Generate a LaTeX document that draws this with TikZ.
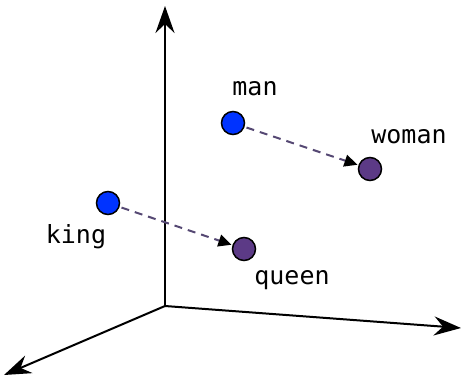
\documentclass[tikz,border=0pt]{standalone}
\usepackage{fontspec}
\setmonofont{DejaVu Sans Mono}
\usetikzlibrary{arrows.meta}
\definecolor{vblue}{RGB}{0,51,255}
\definecolor{vpurple}{RGB}{92,58,134}
\definecolor{dashc}{RGB}{85,72,115}
\tikzset{
  axis/.style={line width=2pt, -{Stealth[length=27pt,width=19pt,inset=9pt]}},
  word/.style={circle, draw=black, line width=1.5pt, minimum size=23pt, inner sep=0pt},
  lbl/.style={font=\fontsize{25}{27}\selectfont\ttfamily, inner sep=0pt},
  rel/.style={dashc, line width=2pt, dash pattern=on 8pt off 6pt, -{Triangle[length=13pt,width=12pt,color=black]}, shorten >=1pt, shorten <=2pt}
}
\begin{document}
\begin{tikzpicture}[x=1pt,y=-1pt]
\useasboundingbox (0,0) rectangle (462,380);
\coordinate (o) at (165,306);
\coordinate (ty) at (165,6);
\coordinate (tx) at (461,328);
\coordinate (tz) at (4,375);
\draw[axis] (o) -- (ty);
\draw[axis] (o) -- (tx);
\draw[axis] (o) -- (tz);
\node[word, fill=vblue] (man) at (233,123) {};
\node[word, fill=vpurple] (woman) at (370,169) {};
\node[word, fill=vblue] (king) at (108,203) {};
\node[word, fill=vpurple] (queen) at (244,249) {};
\draw[rel] (man) -- (woman);
\draw[rel] (king) -- (queen);
\node[lbl] (lman) at (255,89) {man};
\node[lbl] (lwoman) at (409,137) {woman};
\node[lbl] (lking) at (76,237) {king};
\node[lbl] (lqueen) at (292,280) {queen};
\end{tikzpicture}
\end{document}
